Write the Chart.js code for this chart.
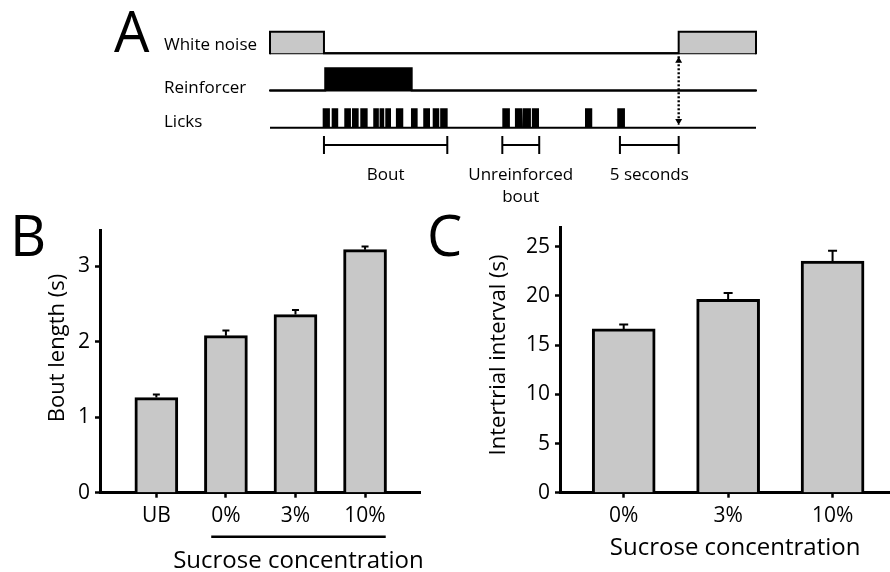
<!DOCTYPE html>
<html><head><meta charset="utf-8">
<script src="https://cdn.jsdelivr.net/npm/chart.js@4"></script>
<style>
html,body{margin:0;padding:0;background:#fff;}
#wrap{position:relative;width:890px;height:572px;overflow:hidden;background:#fff;}
canvas{position:absolute;}
</style></head><body>
<div id="wrap">
<canvas id="cA" width="890" height="210" style="left:0;top:0"></canvas>
<canvas id="cB" width="430" height="362" style="left:0;top:210px"></canvas>
<canvas id="cC" width="460" height="362" style="left:430px;top:210px"></canvas>
</div>
<script>
// ===== Panel A : event timeline (time in seconds, 0 = end of white noise) =====
const timelineStart = -4.62;
const timelineEnd = 36.99;
const whiteNoiseOn = [[-4.62, 0.0], [30.37, 36.99]];
const reinforcerOn = [[0.11, 7.51]];
const boutLicks = [[-0.11,0.51],[0.66,1.22],[1.74,2.31],[2.40,2.97],[3.11,3.74],[4.22,4.70],[4.76,5.16],[5.25,5.74],[6.16,6.79],[7.45,8.02],[8.50,9.08],[9.31,9.87],[9.95,10.59]];
const unreinforcedLicks = [[15.27,15.92],[16.35,16.97],[17.03,17.72],[17.80,18.41]];
const isolatedLicks = [[22.35,22.97],[25.11,25.77]];
const rowNames = ['White noise','Reinforcer','Licks'];
const bracketFrom = [0.0, 15.27, 25.34];
const bracketTo = [10.56, 18.43, 30.37];
const bracketLabels = [['Bout'], ['Unreinforced','bout'], ['5 seconds']];

// ===== Panel B : bout length =====
const boutCategories = ['UB','0%','3%','10%'];
const boutMeans = [1.26, 2.08, 2.36, 3.22];
const boutSEM = [0.04, 0.07, 0.06, 0.04];
const boutTicks = [0, 1, 2, 3];

// ===== Panel C : intertrial interval =====
const itiCategories = ['0%','3%','10%'];
const itiMeans = [16.65, 19.65, 23.55];
const itiSEM = [0.45, 0.65, 1.05];
const itiTicks = [0, 5, 10, 15, 20, 25];

const FONT = "'Open Sans', 'DejaVu Sans', sans-serif";
Chart.defaults.font.family = FONT;
Chart.defaults.color = '#000';

// ---------- Panel A ----------
const ROW = [3, 2, 1];          // row baselines (white noise, reinforcer, licks)
const H = [0.58, 0.60, 0.52];   // pulse heights
const BRACKET_Y = 0.535, BRACKET_HALF = 0.242;

function pulseTrace(intervals, base, h, start, end) {
  const pts = [{x: start, y: base}];
  intervals.forEach(([a, b]) => {
    pts.push({x: a, y: base}, {x: a, y: base + h}, {x: b, y: base + h}, {x: b, y: base});
  });
  pts.push({x: end, y: base});
  return pts;
}
function bracketTrace(froms, tos, y, half) {
  const pts = [];
  froms.forEach((f, i) => {
    const t = tos[i];
    pts.push({x: f, y: y - half}, {x: f, y: y + half}, {x: f, y: null},
             {x: f, y: y}, {x: t, y: y}, {x: t, y: null},
             {x: t, y: y - half}, {x: t, y: y + half}, {x: t, y: null});
  });
  return pts;
}
const allLicks = boutLicks.concat(unreinforcedLicks, isolatedLicks);
const lineBase = {type: 'line', borderColor: '#000', borderWidth: 2, pointRadius: 0, tension: 0,
  clip: false, borderJoinStyle: 'miter', borderCapStyle: 'square', fill: false};

const textA = {
  id: 'textA',
  afterDraw(chart) {
    const ctx = chart.ctx, xs = chart.scales.x, ys = chart.scales.y;
    ctx.save();
    ctx.fillStyle = '#000';
    ctx.textBaseline = 'alphabetic';
    ctx.textAlign = 'left';
    ctx.font = '56px ' + FONT;
    ctx.fillText('A', 114, 52);
    ctx.font = '17px ' + FONT;
    const off = [-3.3, 2.0, -1.0];
    rowNames.forEach((n, i) => ctx.fillText(n, 164, ys.getPixelForValue(ROW[i]) + off[i]));
    ctx.textAlign = 'center';
    bracketLabels.forEach((lines, i) => {
      const cx = xs.getPixelForValue((bracketFrom[i] + bracketTo[i]) / 2);
      const by = ys.getPixelForValue(BRACKET_Y) + 35;
      lines.forEach((l, k) => ctx.fillText(l, cx, by + k * 21.7));
    });
    ctx.restore();
  }
};

const baselines = ROW.map(r => Object.assign({}, lineBase,
  {data: [{x: timelineStart, y: r}, {x: timelineEnd, y: r}], borderCapStyle: 'butt'}));

new Chart(document.getElementById('cA'), {
  type: 'line',
  data: {datasets: [
    Object.assign({}, lineBase, {data: pulseTrace(whiteNoiseOn, ROW[0], H[0], timelineStart, timelineEnd),
      fill: {value: ROW[0]}, backgroundColor: '#c8c8c8'}),
    Object.assign({}, lineBase, {data: pulseTrace(reinforcerOn, ROW[1], H[1], timelineStart, timelineEnd),
      fill: {value: ROW[1]}, backgroundColor: '#000'}),
    Object.assign({}, lineBase, {data: pulseTrace(allLicks, ROW[2], H[2], timelineStart, timelineEnd),
      fill: {value: ROW[2]}, backgroundColor: '#000', borderWidth: 0}),
    ...baselines,
    Object.assign({}, lineBase, {data: bracketTrace(bracketFrom, bracketTo, BRACKET_Y, BRACKET_HALF),
      spanGaps: false, borderCapStyle: 'butt'}),
    Object.assign({}, lineBase, {data: [{x: whiteNoiseOn[1][0], y: ROW[0] - 0.08}, {x: whiteNoiseOn[1][0], y: ROW[2] + 0.08}],
      borderDash: [2, 2], borderWidth: 2.4, borderCapStyle: 'butt'}),
    Object.assign({}, lineBase, {data: [{x: whiteNoiseOn[1][0], y: ROW[0] - 0.2}, {x: whiteNoiseOn[1][0], y: ROW[2] + 0.18}],
      showLine: false, pointStyle: 'triangle', pointRadius: 4, pointRotation: [0, 180],
      pointBackgroundColor: '#000', pointBorderWidth: 0})
  ]},
  options: {
    responsive: false, animation: false, devicePixelRatio: 1,
    layout: {padding: {left: 270, right: 134, top: 16.1, bottom: 45.1}},
    plugins: {legend: {display: false}, tooltip: {enabled: false}},
    scales: {
      x: {type: 'linear', display: false, min: timelineStart, max: timelineEnd},
      y: {type: 'linear', display: false, min: 0, max: 4}
    }
  },
  plugins: [textA]
});

// ---------- Panels B and C ----------
function barPanel(canvasId, cats, means, sems, yTicks, cfg) {
  const deco = {
    id: 'deco' + canvasId,
    afterDatasetsDraw(chart) {
      const ctx = chart.ctx, xs = chart.scales.x, ys = chart.scales.y;
      ctx.save();
      ctx.strokeStyle = '#000';
      ctx.lineWidth = 2;
      means.forEach((m, i) => {
        const px = xs.getPixelForValue(i + 1);
        const y0 = ys.getPixelForValue(m), y1 = ys.getPixelForValue(m + sems[i]);
        ctx.beginPath();
        ctx.moveTo(px, y0); ctx.lineTo(px, y1);
        ctx.moveTo(px - cfg.cap / 2, y1); ctx.lineTo(px + cfg.cap / 2, y1);
        ctx.stroke();
      });
      ctx.restore();
    },
    afterDraw(chart) {
      const ctx = chart.ctx, xs = chart.scales.x, ca = chart.chartArea;
      ctx.save();
      ctx.fillStyle = '#000';
      ctx.strokeStyle = '#000';
      // panel letter
      ctx.font = '56px ' + FONT;
      ctx.textAlign = 'left'; ctx.textBaseline = 'alphabetic';
      ctx.fillText(cfg.letter, cfg.letterX, 46);
      // y axis title
      ctx.font = '22px ' + FONT;
      ctx.textAlign = 'center'; ctx.textBaseline = 'middle';
      ctx.save();
      ctx.translate(cfg.yTitleX, cfg.yTitleY);
      ctx.rotate(-Math.PI / 2);
      ctx.fillText(cfg.yTitle, 0, 0);
      ctx.restore();
      // x title under the sucrose group
      ctx.font = '21px ' + FONT;
      const first = cfg.groupFrom, last = cats.length - 1;
      const x0 = xs.getPixelForValue(first + 1) - ctx.measureText(cats[first]).width / 2;
      const x1 = xs.getPixelForValue(last + 1) + ctx.measureText(cats[last]).width / 2;
      if (cfg.underline) {
        ctx.lineWidth = 2.5;
        ctx.beginPath();
        ctx.moveTo(x0, ca.bottom + 44); ctx.lineTo(x1, ca.bottom + 44);
        ctx.stroke();
      }
      ctx.font = '24px ' + FONT;
      ctx.textBaseline = 'alphabetic';
      ctx.fillText('Sucrose concentration', (x0 + x1) / 2 + cfg.titleDX, ca.bottom + cfg.titleDY);
      ctx.restore();
    }
  };
  return new Chart(document.getElementById(canvasId), {
    type: 'bar',
    data: {datasets: [{
      data: means.map((v, i) => ({x: i + 1, y: v})),
      backgroundColor: '#c8c8c8', borderColor: '#000', borderWidth: 3,
      borderSkipped: 'start', barThickness: cfg.barPx
    }]},
    options: {
      responsive: false, animation: false, devicePixelRatio: 1,
      layout: {padding: {left: 0, top: cfg.top, right: cfg.right, bottom: 0}},
      plugins: {legend: {display: false}, tooltip: {enabled: false}},
      scales: {
        x: {
          type: 'linear', offset: false, min: cfg.xMin, max: cfg.xMax,
          afterBuildTicks: s => { s.ticks = cats.map((c, i) => ({value: i + 1})); },
          afterFit: s => { s.height = cfg.xAxisH; },
          ticks: {callback: v => cats[v - 1], font: {size: 21, family: FONT}, color: '#000',
                  padding: 6, autoSkip: false, maxRotation: 0},
          grid: {offset: false, drawOnChartArea: false, drawTicks: true, tickLength: 5, tickWidth: 2.5, tickColor: '#000'},
          border: {display: true, width: 3, color: '#000'}
        },
        y: {
          type: 'linear', min: 0, max: cfg.yMax,
          afterBuildTicks: s => { s.ticks = yTicks.map(v => ({value: v})); },
          afterFit: s => { s.width = cfg.yAxisW; },
          ticks: {font: {size: 21, family: FONT}, color: '#000', padding: 5},
          grid: {drawOnChartArea: false, drawTicks: true, tickLength: 5, tickWidth: 2.5, tickColor: '#000'},
          border: {display: true, width: 3, color: '#000'}
        }
      }
    },
    plugins: [deco]
  });
}

barPanel('cB', boutCategories, boutMeans, boutSEM, boutTicks, {
  letter: 'B', letterX: 10, yTitle: 'Bout length (s)', yTitleX: 58, yTitleY: 138,
  top: 20, right: 10, yAxisW: 100, xAxisH: 79.3, xMin: 0.19, xMax: 4.79, yMax: 3.48,
  barPx: 43, cap: 7, groupFrom: 1, underline: true, titleDX: 0, titleDY: 75.6
});
barPanel('cC', itiCategories, itiMeans, itiSEM, itiTicks, {
  letter: 'C', letterX: -3, yTitle: 'Intertrial interval (s)', yTitleX: 69, yTitleY: 145,
  top: 16.7, right: 0, yAxisW: 130, xAxisH: 79.3, xMin: 0.39, xMax: 3.55, yMax: 26.95,
  barPx: 63, cap: 9, groupFrom: 0, underline: false, titleDX: 4, titleDY: 62.3
});
</script>
</body></html>
